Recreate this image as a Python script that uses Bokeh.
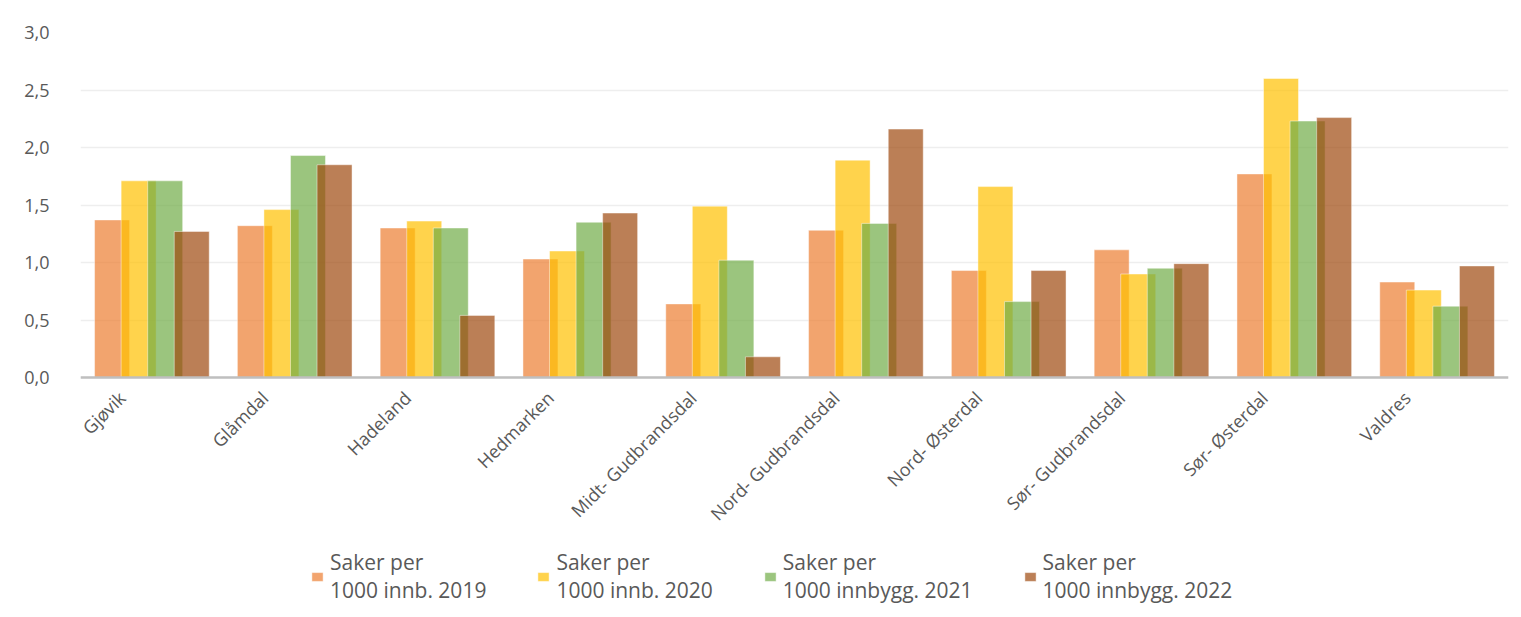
import math
from bokeh.plotting import figure
from bokeh.models import (ColumnDataSource, FactorRange, FixedTicker, Legend, LegendItem,
                          Range1d, Span)
from bokeh.core.properties import value
from bokeh.transform import dodge
from bokeh.embed import file_html
from bokeh.resources import INLINE

regions = ["Gjøvik", "Glåmdal", "Hadeland", "Hedmarken", "Midt- Gudbrandsdal",
           "Nord- Gudbrandsdal", "Nord- Østerdal", "Sør- Gudbrandsdal", "Sør- Østerdal", "Valdres"]
v2019 = [1.37, 1.32, 1.30, 1.03, 0.64, 1.28, 0.93, 1.11, 1.77, 0.83]
v2020 = [1.71, 1.46, 1.36, 1.10, 1.49, 1.89, 1.66, 0.90, 2.60, 0.76]
v2021 = [1.71, 1.93, 1.30, 1.35, 1.02, 1.34, 0.66, 0.95, 2.23, 0.62]
v2022 = [1.27, 1.85, 0.54, 1.43, 0.18, 2.16, 0.93, 0.99, 2.26, 0.97]
series_labels = ["Saker per\n1000 innb. 2019", "Saker per\n1000 innb. 2020",
                 "Saker per\n1000 innbygg. 2021", "Saker per\n1000 innbygg. 2022"]
y_ticks = [0.0, 0.5, 1.0, 1.5, 2.0, 2.5, 3.0]
y_tick_labels = ["0,0", "0,5", "1,0", "1,5", "2,0", "2,5", "3,0"]

colors = ["#ED7D31", "#FFC000", "#70AD47", "#9E480E"]
offsets = [-0.279, -0.093, 0.093, 0.279]
FONT = "Open Sans"
TXT = "#595959"

# layout: 115 px per unit on y; the frame extends below zero to hold labels and legend
PX_PER_UNIT = 115
FRAME_H = 577
Y_MAX = 3.0
y_min = Y_MAX - FRAME_H / PX_PER_UNIT

src = ColumnDataSource(dict(cat=regions, v2019=v2019, v2020=v2020, v2021=v2021, v2022=v2022))

p = figure(x_range=FactorRange(*regions, range_padding=0), y_range=Range1d(y_min, Y_MAX),
           frame_width=1428, frame_height=FRAME_H, output_backend="svg", toolbar_location=None,
           x_axis_location=None,
           min_border_left=80, min_border_right=7, min_border_top=32, min_border_bottom=0)
p.outline_line_color = None
p.background_fill_color = "white"
p.border_fill_color = "white"

# gridlines (only at the ticks 0..3)
p.yaxis.ticker = FixedTicker(ticks=y_ticks)
p.ygrid.grid_line_color = "#EEEEEE"
p.ygrid.grid_line_width = 1.5
p.xgrid.grid_line_color = None

items = []
for col, c, off, lab in zip(["v2019", "v2020", "v2021", "v2022"], colors, offsets, series_labels):
    r = p.vbar(x=dodge("cat", off, range=p.x_range), top=col, bottom=0, width=0.245, source=src,
               fill_color=c, fill_alpha=0.7, line_color="white", line_alpha=0.45, line_width=1)
    items.append(LegendItem(label=lab, renderers=[r]))

# category axis line at zero
p.add_layout(Span(location=0, dimension="width", line_color="#BFBFBF", line_width=2.5))

# rotated category labels
p.text(x="cat", y=0, text="cat", source=src, angle=math.pi / 4,
       x_offset=-30, y_offset=17, text_align="right", text_baseline="middle",
       text_font=value(FONT), text_font_size=value("18px"), text_color=TXT)

# y axis
p.yaxis.major_label_overrides = {t: l for t, l in zip(y_ticks, y_tick_labels)}
p.yaxis.axis_line_color = None
p.yaxis.major_tick_line_color = None
p.yaxis.minor_tick_line_color = None
p.yaxis.major_label_standoff = 25
p.yaxis.major_label_text_font = FONT
p.yaxis.major_label_text_font_size = "18px"
p.yaxis.major_label_text_color = TXT

legend = Legend(items=items, orientation="horizontal", location=(230, 5),
                label_text_font=FONT, label_text_font_size="21px", label_text_color=TXT,
                label_text_line_height=1.05,
                glyph_width=14, glyph_height=11, label_standoff=6, spacing=50,
                border_line_color=None, background_fill_alpha=0, margin=0, padding=0)
p.add_layout(legend, "center")

open("out.html", "w").write(file_html(p, INLINE))
